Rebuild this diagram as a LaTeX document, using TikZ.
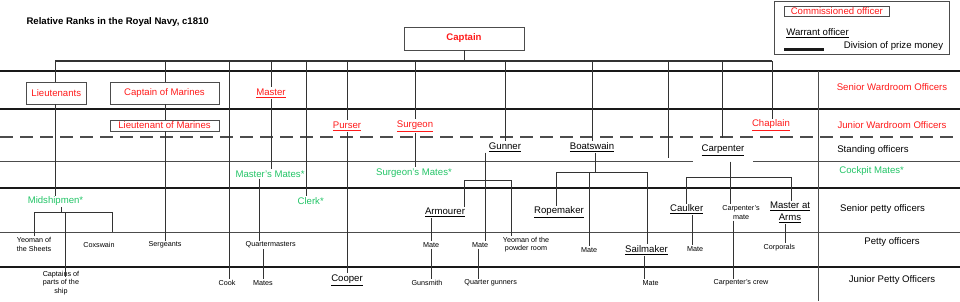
\documentclass[tikz,border=0pt]{standalone}
\usepackage{fontspec}
\setmainfont{Liberation Sans}
\usepackage{xcolor}
\usetikzlibrary{positioning}
\definecolor{navyred}{HTML}{FF1A1A}
\definecolor{navygreen}{HTML}{22C466}
\newcommand{\mainsz}{\fontsize{9.6}{11.6}\selectfont}
\newcommand{\smallsz}{\fontsize{7.2}{8.6}\selectfont}

\begin{document}
\begin{tikzpicture}[
  x=1pt, y=-1pt,
  thickrule/.style={line width=2.6pt, black!90},
  thinrule/.style={line width=0.9pt, black!70},
  link/.style={line width=0.9pt, black!80},
  combox/.style={draw=black!70, line width=0.9pt, text=navyred, font=\mainsz, inner sep=0pt},
  ward/.style={text=navyred, font=\mainsz, inner sep=1pt},
  warr/.style={font=\mainsz, inner sep=1pt},
  cockpit/.style={text=navygreen, font=\mainsz, inner sep=1pt},
  rate/.style={font=\smallsz, align=center, inner sep=1pt},
  band/.style={font=\mainsz}
]
\useasboundingbox (0,0) rectangle (960,301);

% Title and key
\node[font=\mainsz\bfseries, anchor=west] (title) at (23,22) {Relative Ranks in the Royal Navy, c1810};
\draw[thinrule] (774,1) rectangle (949,54);
\node[combox, minimum width=105, minimum height=10] (keycom) at (836.8,11) {Commissioned officer};
\node[warr] (keywarr) at (817.5,33) {\underline{Warrant officer}};
\draw[thickrule] (784,49.3) -- (824,49.3);
\node[band] (keyprize) at (893.5,46) {Division of prize money};

% Bands of the ship's company
\foreach \y in {71,109,188,267}{
  \draw[thickrule] (0,\y) -- (960,\y);
}
\foreach \y in {161,232}{
  \draw[thinrule] (0,\y) -- (960,\y);
}
\draw[thinrule, line width=1.2pt, dash pattern=on 13pt off 7pt] (0,137) -- (960,137);
\draw[thinrule] (818,71) -- (818,301);

\node[band, text=navyred] (swo) at (892,87) {Senior Wardroom Officers};
\node[band, text=navyred] (jwo) at (892,125.5) {Junior Wardroom Officers};
\node[band] (sto) at (873,150) {Standing officers};
\node[band, text=navygreen] (cpm) at (871.7,171) {Cockpit Mates*};
\node[band] (spo) at (882.5,209.5) {Senior petty officers};
\node[band] (pto) at (892,242) {Petty officers};
\node[band] (jpo) at (892,280) {Junior Petty Officers};

% Commissioned officers
\node[combox, font=\mainsz\bfseries, minimum width=120, minimum height=23] (captain) at (464,38.5) {Captain};
\node[combox, minimum width=60.7, minimum height=22] (lieut) at (56.3,93) {Lieutenants};
\node[combox, minimum width=109, minimum height=22] (capmar) at (164.5,93) {Captain of Marines};
\node[combox, minimum width=109, minimum height=11] (ltmar) at (164.5,125.5) {Lieutenant of Marines};

% Wardroom and standing warrant officers
\node[ward] (master) at (271,93) {\underline{Master}};
\node[ward] (purser) at (347,126) {\underline{Purser}};
\node[ward] (surgeon) at (415,126) {\underline{Surgeon}};
\node[ward] (chaplain) at (771,125.5) {\underline{Chaplain}};
\node[warr] (gunner) at (505,147) {\underline{Gunner}};
\node[warr] (boatswain) at (592,147) {\underline{Boatswain}};
\node[warr, fill=white, minimum width=60, minimum height=23] (carpenter) at (723,150) {\underline{Carpenter}};

% Cockpit mates
\node[cockpit] (mastmates) at (270,174) {Master's Mates*};
\node[cockpit] (surgmates) at (414,173) {Surgeon's Mates*};
\node[cockpit] (midship) at (55.5,201.5) {Midshipmen*};
\node[cockpit] (clerk) at (310.7,201) {Clerk*};

% Senior petty officers
\node[warr] (armourer) at (445,212.3) {\underline{Armourer}};
\node[warr] (ropemaker) at (559,212.3) {\underline{Ropemaker}};
\node[warr] (caulker) at (686.7,209.3) {\underline{Caulker}};
\node[rate] (carpmate) at (741,212.5) {Carpenter's\\mate};
\node[warr, align=center] (mastarms) at (790,212.5) {\underline{Master at}\\\underline{Arms}};

% Petty officers
\node[rate] (yeosheets) at (34,244.5) {Yeoman of\\the Sheets};
\node[rate] (coxswain) at (99,245) {Coxswain};
\node[rate] (sergeants) at (165,245) {Sergeants};
\node[rate] (qmasters) at (270.7,245) {Quartermasters};
\node[rate] (armmate) at (431,245) {Mate};
\node[rate] (gunmate) at (480,245) {Mate};
\node[rate] (yeopowder) at (526,244.5) {Yeoman of the\\powder room};
\node[rate] (bosmate) at (589,250) {Mate};
\node[warr] (sailmaker) at (646.5,250) {\underline{Sailmaker}};
\node[rate] (caulkmate) at (695,249) {Mate};
\node[rate] (corporals) at (779.3,247.7) {Corporals};

% Junior petty officers
\node[rate] (capparts) at (61,283) {Captains of\\parts of the\\ship};
\node[rate] (cook) at (227,283) {Cook};
\node[rate] (qmmates) at (263,283) {Mates};
\node[warr] (cooper) at (347,280) {\underline{Cooper}};
\node[rate] (gunsmith) at (427,283) {Gunsmith};
\node[rate] (qgunners) at (490.7,283) {Quarter gunners};
\node[rate] (sailmate) at (650.7,283) {Mate};
\node[rate] (carpcrew) at (741,283) {Carpenter's crew};

% Captain and the bar below him
\foreach \n/\x in {lt/55, cm/165, ck/229, ms/271, cl/306, pu/347, sg/415,
                   gu/505, bo/592, cx/668, ca/722, ch/772}{
  \coordinate (t\n) at (\x,61);
}
\draw[link] (captain) -- (captain |- tlt);
\draw[link, line width=1.2pt] (tlt) -- (tch);

% Drops from the bar
\draw[link] (tlt) -- (tlt |- lieut.north);
\draw[link] (tlt |- lieut.south) -- (tlt |- midship.north);
\draw[link] (tcm) -- (tcm |- capmar.north);
\draw[link] (tcm |- capmar.south) -- (tcm |- ltmar.north);
\draw[link] (tcm |- ltmar.south) -- (tcm |- sergeants.north);
\draw[link] (tck) -- (tck |- cook.north);
\draw[link] (tms) -- (tms |- master.north);
\draw[link] (tms |- master.south) -- (tms |- mastmates.north);
\draw[link] (tcl) -- (tcl |- clerk.north);
\draw[link] (tpu) -- (tpu |- purser.north);
\draw[link] (tpu |- purser.south) -- (tpu |- cooper.north);
\draw[link] (tsg) -- (tsg |- surgeon.north);
\draw[link] (tsg |- surgeon.south) -- (tsg |- surgmates.north);
\draw[link] (tgu) -- (tgu |- gunner.north);
\draw[link] (tbo) -- (tbo |- boatswain.north);
\draw[link] (tcx) -- (668,158);
\draw[link] (tca) -- (tca |- carpenter.north);
\draw[link] (tch) -- (tch |- chaplain.north);

% Midshipmen and Master's Mates
\draw[link] (61.7,0 |- midship.south) -- (61.7,212.7);
\draw[link] (34,0 |- yeosheets.north) -- (34,212.7) -- (112,212.7) -- (112,232);
\draw[link] (65.3,212.7) -- (65.3,277);
\draw[link] (259,0 |- mastmates.south) -- (259,0 |- qmasters.north);
\draw[link] (263,0 |- qmasters.south) -- (263,0 |- qmmates.north);

% Gunner's people
\draw[link] (485.7,0 |- gunner.south) -- (485.7,0 |- gunmate.north);
\draw[link] (464,0 |- armourer.north) -- (464,180.7) -- (511.7,180.7) -- (511.7,0 |- yeopowder.north);
\draw[link] (431,0 |- armourer.south) -- (431,0 |- armmate.north);
\draw[link] (431,0 |- armmate.south) -- (431,0 |- gunsmith.north);
\draw[link] (478.7,0 |- gunmate.south) -- (478.7,0 |- qgunners.north);

% Boatswain's people
\draw[link] (595,0 |- boatswain.south) -- (595,172);
\draw[link] (556.7,0 |- ropemaker.north) -- (556.7,172) -- (647.7,172) -- (647.7,0 |- sailmaker.north);
\draw[link] (589,172) -- (589,0 |- bosmate.north);
\draw[link] (644,0 |- sailmaker.south) -- (644,0 |- sailmate.north);

% Carpenter's people
\draw[link] (730.7,0 |- carpenter.south) -- (730.7,0 |- carpmate.north);
\draw[link] (686.7,0 |- caulker.north) -- (686.7,177.3) -- (791,177.3) -- (791,0 |- mastarms.north);
\draw[link] (692.7,0 |- caulker.south) -- (692.7,0 |- caulkmate.north);
\draw[link] (733.3,0 |- carpmate.south) -- (733.3,0 |- carpcrew.north);
\draw[link] (785,0 |- mastarms.south) -- (785,0 |- corporals.north);

\end{tikzpicture}
\end{document}
